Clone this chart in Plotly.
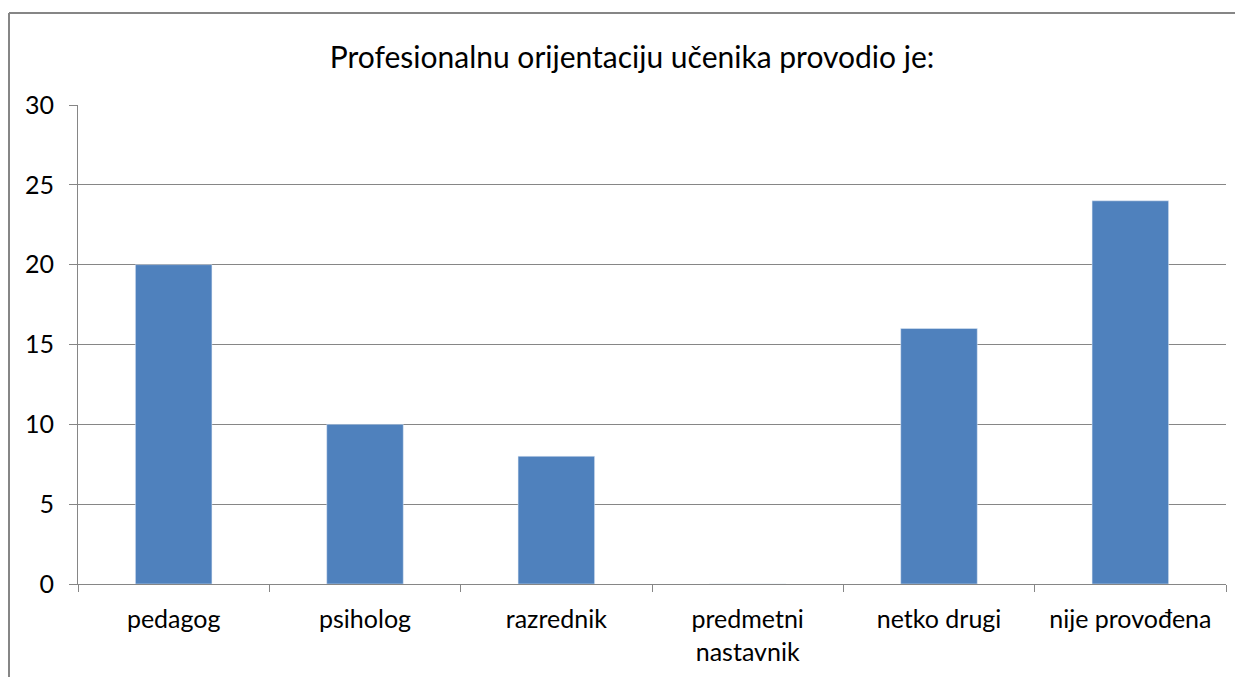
import plotly.graph_objects as go

categories = ["pedagog", "psiholog", "razrednik", "predmetni<br>nastavnik", "netko drugi", "nije provođena"]
values = [20, 10, 8, 0, 16, 24]
y_ticks = [0, 5, 10, 15, 20, 25, 30]

# page has an 8px body margin, so figure coords = page coords - 8
OFF = 8
W, H = 1243 - OFF, 677 - OFF
L, T = 78 - OFF, 105 - OFF
R = W - (1226 - OFF)
B = H - (584 - OFF)
pw, ph = W - L - R, H - T - B

def px_x(x):
    return (x - OFF - L) / pw

def px_y(y):
    return (H - B - (y - OFF)) / ph

fig = go.Figure(go.Bar(x=categories, y=values, marker_color="#4F81BD", width=0.4))

fig.update_layout(
    width=W, height=H,
    margin=dict(l=L, r=R, t=T, b=B, autoexpand=False),
    paper_bgcolor="white", plot_bgcolor="white",
    font=dict(family="Lato", size=25, color="black"),
    showlegend=False,
    title=dict(text="Profesionalnu orijentaciju učenika provodio je:",
               x=(632 - OFF) / W, xanchor="center",
               y=1 - (57 - OFF) / H, yanchor="middle",
               font=dict(size=30)),
    bargap=0.6,
)
fig.update_yaxes(range=[0, 30], tickvals=y_ticks, showgrid=True, gridcolor="#868686", gridwidth=1,
                 showline=True, linecolor="#868686", linewidth=1, automargin=False,
                 ticks="outside", ticklen=8, tickcolor="#868686", zeroline=False,
                 ticklabelstandoff=10)
fig.update_xaxes(showline=True, linecolor="#868686", linewidth=1, showgrid=False, automargin=False,
                 ticks="outside", ticklen=7, tickcolor="#868686", tickson="boundaries",
                 tickangle=0, ticklabelstandoff=13)

# chart outer border (top and left edges visible, rest runs off the page)
border = dict(color="#868686", width=2)
fig.add_shape(type="line", xref="paper", yref="paper",
              x0=px_x(9), x1=px_x(1243 + 20), y0=px_y(13), y1=px_y(13), line=border)
fig.add_shape(type="line", xref="paper", yref="paper",
              x0=px_x(9), x1=px_x(9), y0=px_y(13), y1=px_y(677 + 20), line=border)

fig.write_html("out.html")
